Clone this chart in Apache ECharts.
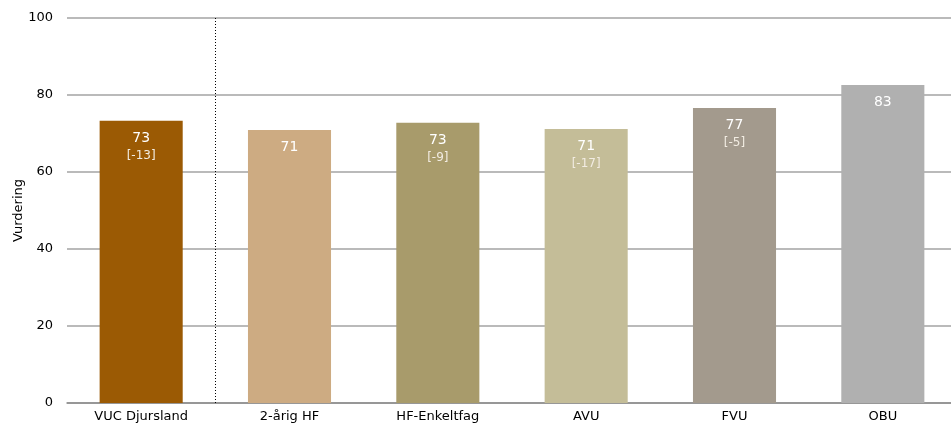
<!DOCTYPE html>
<html>
<head>
<meta charset="utf-8">
<script src="https://cdn.jsdelivr.net/npm/echarts@6/dist/echarts.min.js"></script>
<style>
	html, body { margin: 0; padding: 0; background: #fff; }
	#chart { width: 951px; height: 425px; }
</style>
</head>
<body>
<div id="chart"></div>
<script>
// data
var categories = ['VUC Djursland', '2-årig HF', 'HF-Enkeltfag', 'AVU', 'FVU', 'OBU'];
var values = [73.3, 70.9, 72.8, 71.2, 76.6, 82.6];
var diffs = ['-13', '', '-9', '-17', '-5', ''];
var colors = ['#9b5a04', '#cdab82', '#a89b6b', '#c4bd98', '#a39a8d', '#b0b0b0'];
var yTicks = [0, 20, 40, 60, 80, 100];

var myChart = echarts.init(document.getElementById('chart'));

var barData = values.map(function(v, i) {
	return {
		value: v,
		diff: diffs[i],
		itemStyle: { color: colors[i] }
	};
});

var option = {
	animation: false,
	textStyle: { fontFamily: 'DejaVu Sans' },
	grid: { left: 67, right: -6, top: 18, bottom: 22, outerBoundsMode: 'none', containLabel: false },
	xAxis: [
		{
			type: 'category',
			data: categories,
			axisTick: { show: false },
			axisLine: { lineStyle: { color: '#8c8c8c', width: 1.5 } },
			axisLabel: { color: '#000', fontSize: 13, margin: 7 }
		},
		{
			// helper axis for the separator after the first category
			type: 'value',
			min: 0,
			max: categories.length,
			show: false
		}
	],
	yAxis: {
		type: 'value',
		min: yTicks[0],
		max: yTicks[yTicks.length - 1],
		interval: 20,
		name: 'Vurdering',
		nameLocation: 'middle',
		nameGap: 42,
		nameMoveOverlap: false,
		nameTextStyle: { color: '#000', fontSize: 13 },
		axisLine: { show: false },
		axisTick: { show: false },
		axisLabel: { color: '#000', fontSize: 13, margin: 14 },
		splitLine: { lineStyle: { color: '#a3a3a3', width: 1.5 } }
	},
	series: [
		{
			type: 'bar',
			barWidth: '56%',
			data: barData,
			label: {
				show: true,
				position: 'insideTop',
				distance: 8,
				formatter: function(p) {
					var s = '{v|' + Math.round(p.value) + '}';
					if (p.data.diff) {
						s += '\n{d|[' + p.data.diff + ']}';
					}
					return s;
				},
				rich: {
					v: { color: '#fff', fontSize: 14, lineHeight: 19, fontFamily: 'DejaVu Sans' },
					d: { color: '#f2ece2', fontSize: 12, lineHeight: 16, fontFamily: 'DejaVu Sans' }
				}
			}
		},
		{
			type: 'line',
			xAxisIndex: 1,
			data: [],
			silent: true,
			markLine: {
				symbol: ['none', 'none'],
				label: { show: false },
				lineStyle: { color: '#000', type: [1, 2], width: 1 },
				data: [{ xAxis: 1 }]
			}
		}
	]
};

myChart.setOption(option);
</script>
</body>
</html>
